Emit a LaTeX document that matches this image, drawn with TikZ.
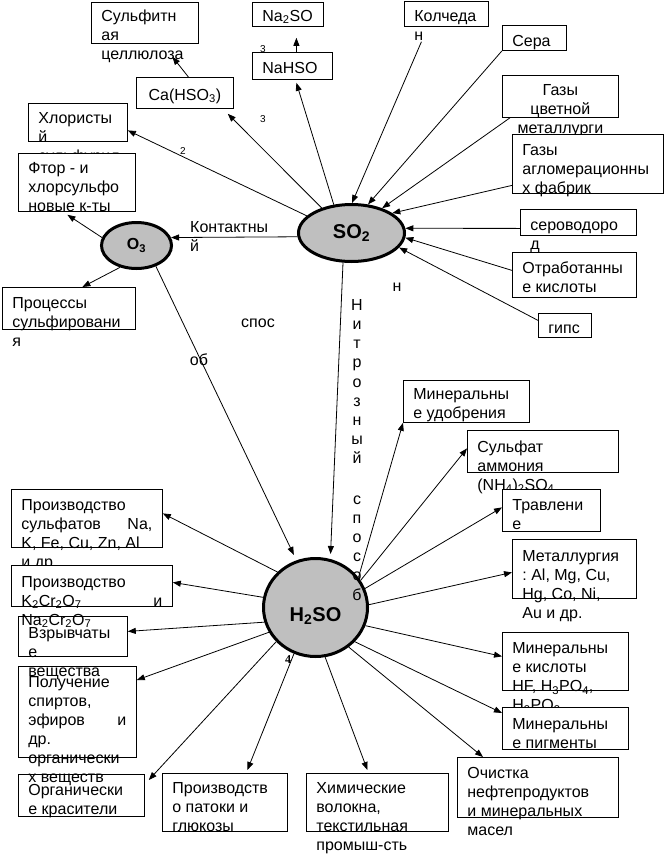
\documentclass[tikz,border=0pt]{standalone}
\usepackage{fontspec}
\setmainfont{Liberation Sans}
\newfontfamily\numserif{Liberation Serif}
\usetikzlibrary{arrows.meta,shapes.geometric}
\frenchspacing

\begin{document}
\begin{tikzpicture}[
      x=1pt, y=-1pt,
      font=\fontsize{16}{19}\selectfont,
      box/.style={draw, fill=white, anchor=north west, align=flush left,
                  inner xsep=10pt, inner ysep=0pt, line width=0.8pt},
      bsize/.style n args={3}{text width={#1pt-20pt}, text height=#3pt,
                  text depth={#2pt-#3pt}},
      subst/.style={draw, ellipse, line width=3pt, fill=black!25, inner sep=0pt},
      arr/.style={-{Triangle[length=8pt, width=6pt]}, line width=0.8pt},
      lbl/.style={inner sep=0pt},
      note/.style={inner sep=0pt, font=\fontsize{10}{12}\selectfont},
    ]
    \useasboundingbox (0,0) rectangle (664,854);

    \node[box, bsize={107}{41}{19}] (sulfit) at (91,2) {Сульфитн\\ая\\целлюлоза};
    \node[box, bsize={71}{24}{19}] (na2so) at (252,2) {Na\textsubscript{2}SO};
    \node[box, bsize={80}{27}{21}] (nahso) at (252,52) {NaHSO};
    \node[box, bsize={97}{31}{23}, align=center] (ca) at (136,77) {Ca(HSO\textsubscript{3})};
    \node[box, bsize={99}{38}{20}] (chlor) at (28,103) {Хлористы\\й\\сульфурил};
    \node[box, bsize={117}{58}{20}] (ftor) at (18,153) {Фтор - и\\хлорсульфо\\новые к-ты};
    \node[box, bsize={133}{42}{21}] (proc) at (2,287) {Процессы\\сульфировани\\я};
    \node[box, bsize={84}{25}{20}] (kolch) at (404,1) {Колчеда\\н};
    \node[box, bsize={64}{25}{21}] (sera) at (502,25) {Сера};
    \node[box, bsize={116}{42}{20}, align=center] (gazy1) at (502,75) {Газы\\цветной\\металлурги};
    \node[box, bsize={151}{59}{21}] (gazy2) at (512,134) {Газы\\агломерационны\\х фабрик};
    \node[box, bsize={116}{26}{21}] (serovod) at (520,209) {сероводоро\\д};
    \node[box, bsize={124}{45}{21}] (otrab) at (512,252) {Отработанны\\е кислоты};
    \node[box, bsize={53}{24}{20}] (gips) at (538,313) {гипс};
    \node[box, bsize={126}{42}{19}] (udob) at (403,380) {Минеральны\\е удобрения};
    \node[box, bsize={151}{42}{22}] (sulfamm) at (467,430) {Сульфат\\аммония\\(NH\textsubscript{4})\textsubscript{2}SO\textsubscript{4}};
    \node[box, bsize={98}{42}{21}] (travl) at (502,489) {Травлени\\е};
    \node[box, bsize={124}{59}{22}] (metall) at (512,539) {Металлургия\\: Al, Mg, Cu,\\Hg, Co, Ni,\\Au и др.};
    \node[box, bsize={126}{58}{21}] (kisl) at (502,632) {Минеральны\\е кислоты\\HF, H\textsubscript{3}PO\textsubscript{4},\\H\textsubscript{3}PO\textsubscript{3}};
    \node[box, bsize={126}{42}{22}] (pigm) at (502,707) {Минеральны\\е пигменты};
    \node[box, bsize={161}{60}{21}] (ochist) at (457,757) {Очистка\\нефтепродуктов\\и минеральных\\масел};
    \node[box, bsize={142}{58}{20}] (khim) at (306,773) {Химические\\волокна,\\текстильная\\промыш-сть};
    \node[box, bsize={125}{58}{20}] (patok) at (162,773) {Производств\\о патоки и\\глюкозы};
    \node[box, bsize={126}{42}{21}] (organ) at (18,774) {Органически\\е красители};
    \node[box, bsize={118}{91}{21}] (poluch) at (18,666) {Получение\\спиртов,\\эфиров\hfill и\\др.\\органически\\х веществ};
    \node[box, bsize={109}{40}{22}] (vzryv) at (18,616) {Взрывчаты\\е\\вещества};
    \node[box, bsize={151}{58}{21}] (sulfat) at (11,489) {Производство\\сульфатов\hfill Na,\\K, Fe, Cu, Zn, Al\\и др.};
    \node[box, bsize={161}{41}{22}] (k2cr) at (11,565) {Производство\\K\textsubscript{2}Cr\textsubscript{2}O\textsubscript{7}\hfill и\\Na\textsubscript{2}Cr\textsubscript{2}O\textsubscript{7}};

    \node[subst, minimum width=106pt, minimum height=57pt,
          font=\fontsize{20}{22}\bfseries] (so2) at (351.5,233) {SO\textsubscript{2}};
    \node[subst, minimum width=70pt, minimum height=46pt,
          font=\fontsize{16}{18}\bfseries] (o3) at (136.5,245.5) {O\textsubscript{3}};
    \node[subst, minimum width=104pt, minimum height=98pt, text height=27pt, text depth=0pt,
          font=\fontsize{20}{22}\bfseries] (h2so4) at (315.5,607.5) {H\textsubscript{2}SO};

    \node[lbl, anchor=north west, text width=110pt, align=flush left, text height=12pt] (kontakt) at (190,220) {Контактны\\й};
    \node[lbl, anchor=north, text width=12pt, align=center, text height=12pt,
          font=\fontsize{16}{19.2}\selectfont] (nitro) at (357,298)
          {Н\\и\\т\\р\\о\\з\\н\\ы\\й\\[21pt]с\\п\\о\\с\\о\\б};
    \node[lbl] (sposA) at (258,323) {спос};
    \node[lbl] (sposB) at (199,360) {об};
    \node[lbl] (nlet) at (397,287) {н};
    \node[note] (sub2) at (183,151) {2};
    \node[note] (sub3a) at (263,49) {3};
    \node[note] (sub3b) at (263,119) {3};
    \node[lbl, font=\numserif\bfseries\fontsize{12}{14}\selectfont] (sub4) at (288,660) {4};

    \draw[arr] (so2.159) -- ([yshift=-8pt]chlor.east);
    \draw[arr] (so2.140) -- ([xshift=-6pt,yshift=-5pt]ca.south east);
    \draw[arr] (so2.122) -- ([xshift=4pt,yshift=-3pt]nahso.south);
    \draw[arr] ([xshift=4pt]nahso.north) -- ([xshift=8.5pt,yshift=-11pt]na2so.south);
    \draw[arr] ([xshift=3.5pt]ca.north) -- ([xshift=27.5pt,yshift=-13pt]sulfit.south);

    \draw[arr] ([xshift=-25pt,yshift=-15pt]kolch.south) -- (so2.89);
    \draw[arr] (sera.south west) -- (so2.60);
    \draw[arr] ([xshift=8pt]gazy1.south west) -- (so2.39);
    \draw[arr] ([yshift=-21.5pt]gazy2.west) -- (so2.26);
    \draw[arr] ([yshift=-6pt]serovod.west) -- (so2.5);
    \draw[arr] ([yshift=4.5pt]otrab.west) -- (so2.-5);
    \draw[arr] ([yshift=5pt]gips.west) -- (so2.-17);

    \draw[arr] (so2.184) -- (o3.13);
    \draw[arr] (o3.167) -- ([xshift=-9.5pt,yshift=-3pt]ftor.south);
    \draw[arr] (o3.-127) -- ([xshift=13.5pt]proc.north);
    \draw[arr, shorten >=6pt] (o3.-47) -- (h2so4.112);
    \draw[arr, shorten >=5pt] (so2.-106) -- (h2so4.73);

    \draw[arr] (h2so4.35) -- (udob.south west);
    \draw[arr] (h2so4.31) -- ([yshift=3pt]sulfamm.west);
    \draw[arr] (h2so4.21) -- ([yshift=3pt]travl.west);
    \draw[arr] (h2so4.3) -- ([yshift=-3.5pt]metall.west);
    \draw[arr] (h2so4.-20) -- ([yshift=5pt]kisl.west);
    \draw[arr] (h2so4.-41) -- ([yshift=-6pt]pigm.north west);
    \draw[arr] (h2so4.-50) -- ([xshift=26pt]ochist.north west);
    \draw[arr] (h2so4.-79) -- ([xshift=-10pt,yshift=3pt]khim.north);
    \draw[arr] (h2so4.-115) -- ([xshift=22.5pt,yshift=3pt]patok.north);
    \draw[arr] (h2so4.-139) -- ([xshift=4pt,yshift=-6pt]organ.north east);
    \draw[arr] (h2so4.-152) -- ([yshift=-14pt]poluch.north east);
    \draw[arr] (h2so4.-164) -- ([yshift=5pt]vzryv.east);
    \draw[arr] (h2so4.169) -- ([yshift=3.5pt]k2cr.east);
    \draw[arr] (h2so4.137) -- ([yshift=5pt]sulfat.east);
  \end{tikzpicture}
\end{document}
